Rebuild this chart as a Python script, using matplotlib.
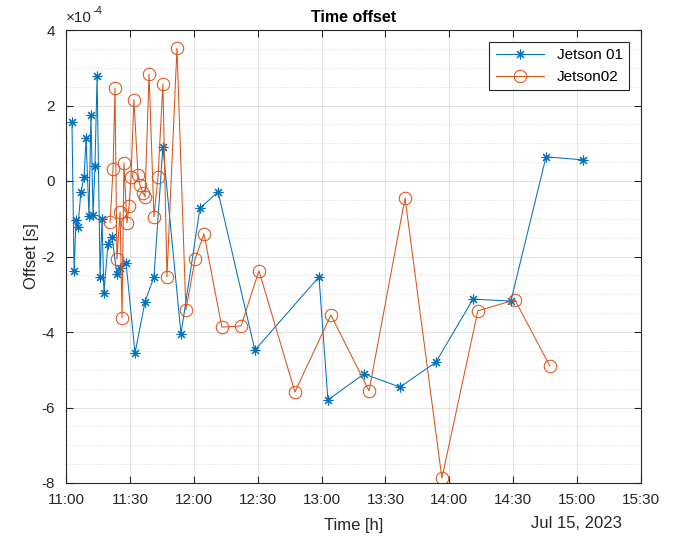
import matplotlib
matplotlib.use("Agg")
import matplotlib.pyplot as plt
import matplotlib.dates as mdates
import matplotlib.ticker as ticker
import pandas as pd

DAY = "2023-07-15"

# Jetson 01 (times hh:mm:ss, offset in 1e-4 s)
jetson01_time = [
    "11:02:48", "11:03:48", "11:04:42", "11:05:36", "11:07:00", "11:08:30",
    "11:09:24", "11:10:48", "11:11:42", "11:12:42", "11:13:36", "11:14:36",
    "11:16:00", "11:16:54", "11:17:48", "11:19:42", "11:21:36", "11:23:54",
    "11:25:24", "11:28:12", "11:32:24", "11:37:06", "11:41:18", "11:45:30",
    "11:54:00", "12:02:54", "12:11:24", "12:28:42", "12:58:48", "13:03:00",
    "13:19:54", "13:36:48", "13:53:42", "14:11:06", "14:28:54", "14:45:24",
    "15:02:42",
]
jetson01_offset = [
    1.56, -2.38, -1.03, -1.22, -0.29, 0.11,
    1.14, -0.93, 1.75, -0.90, 0.40, 2.78,
    -2.54, -1.00, -2.97, -1.67, -1.48, -2.46,
    -2.30, -2.17, -4.56, -3.20, -2.54, 0.90,
    -4.05, -0.72, -0.29, -4.48, -2.54, -5.80,
    -5.11, -5.46, -4.80, -3.13, -3.18, 0.64,
    0.56,
]

# Jetson02
jetson02_time = [
    "11:20:42", "11:22:06", "11:23:00", "11:23:54", "11:25:24", "11:26:18",
    "11:27:12", "11:28:36", "11:29:36", "11:30:30", "11:31:54", "11:33:48",
    "11:34:42", "11:36:12", "11:37:06", "11:39:00", "11:41:18", "11:43:12",
    "11:45:30", "11:47:24", "11:52:06", "11:56:18", "12:00:36", "12:04:48",
    "12:13:12", "12:22:12", "12:30:36", "12:47:30", "13:04:24", "13:22:18",
    "13:39:12", "13:56:30", "14:13:24", "14:30:48", "14:47:12",
]
jetson02_offset = [
    -1.09, 0.32, 2.46, -2.07, -0.82, -3.63,
    0.48, -1.11, -0.66, 0.11, 2.15, 0.16,
    -0.11, -0.32, -0.42, 2.83, -0.95, 0.11,
    2.57, -2.54, 3.52, -3.42, -2.07, -1.40,
    -3.87, -3.84, -2.38, -5.59, -3.55, -5.56,
    -0.45, -7.87, -3.44, -3.15, -4.90,
]

BLUE = "#0072BD"
ORANGE = "#D95319"
TXT = "#262626"

plt.rcParams["font.family"] = ["Liberation Sans", "DejaVu Sans"]
plt.rcParams["axes.unicode_minus"] = False

t1 = pd.to_datetime([f"{DAY} {t}" for t in jetson01_time])
t2 = pd.to_datetime([f"{DAY} {t}" for t in jetson02_time])

fig = plt.figure(figsize=(6.75, 5.38), dpi=100)
ax = fig.add_axes([66 / 675, 1 - 483 / 538, 575 / 675, 453 / 538])

ax.plot(t1, jetson01_offset, color=BLUE, lw=0.75, marker=(8, 2, 0),
        markersize=7, markeredgewidth=0.8, label="Jetson 01")
ax.plot(t2, jetson02_offset, color=ORANGE, lw=0.75, marker="o",
        markersize=9, markerfacecolor="none", markeredgewidth=0.75,
        label="Jetson02")

ax.set_xlim(pd.Timestamp(f"{DAY} 11:00"), pd.Timestamp(f"{DAY} 15:30"))
ax.set_ylim(-8, 4)
ax.xaxis.set_major_locator(mdates.MinuteLocator(byminute=[0, 30]))
ax.xaxis.set_major_formatter(mdates.DateFormatter("%H:%M"))
ax.yaxis.set_major_locator(ticker.MultipleLocator(2))
ax.yaxis.set_minor_locator(ticker.MultipleLocator(0.5))

ax.grid(True, which="major", color="#262626", alpha=0.15, lw=0.6)
ax.grid(True, which="minor", axis="y", color="#262626", alpha=0.2,
        lw=0.5, linestyle=":")
ax.tick_params(which="both", direction="in", top=True, right=True,
               labelsize=11, colors=TXT, labelcolor=TXT, length=5)
ax.tick_params(axis="x", pad=7)
ax.tick_params(axis="y", pad=8)
ax.tick_params(which="minor", length=0)
for s in ax.spines.values():
    s.set_color(TXT)
    s.set_linewidth(0.8)

ax.set_title("Time offset", fontsize=11.5, fontweight="bold", color="black",
             pad=6)
ax.set_ylabel("Offset [s]", fontsize=12, color=TXT, labelpad=2)
ax.set_xlabel("Time [h]", fontsize=12, color=TXT, labelpad=8)
ax.text(0.0, 1.01, "\u00d710", transform=ax.transAxes,
        fontsize=11, color=TXT, va="bottom", ha="left")
ax.text(0.046, 1.032, "-4", transform=ax.transAxes,
        fontsize=8, color=TXT, va="bottom", ha="left")
fig.text(622 / 675, 1 - 523 / 538, "Jul 15, 2023", fontsize=12, color=TXT,
         ha="right", va="center")

leg = ax.legend(loc="upper right", fontsize=11, frameon=True, fancybox=False,
                framealpha=1, edgecolor=TXT, borderaxespad=0.8,
                handlelength=3.2, borderpad=0.4)
leg.get_frame().set_linewidth(0.8)

fig.savefig("out.png", dpi=100)
